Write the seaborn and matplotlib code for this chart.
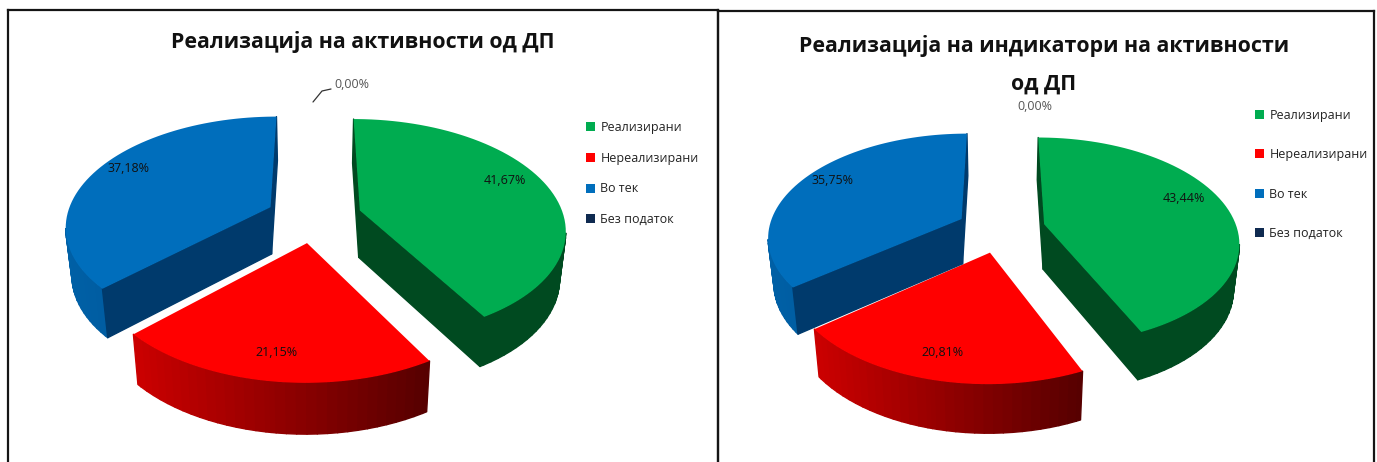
import numpy as np
import matplotlib
matplotlib.use("Agg")
import matplotlib.pyplot as plt
import seaborn as sns
from matplotlib.collections import PolyCollection
from matplotlib.colors import to_rgb
from matplotlib.lines import Line2D
from matplotlib.patches import Patch, Polygon
from matplotlib.transforms import Affine2D

categories = ["Реализирани", "Нереализирани", "Во тек", "Без податок"]
values_left = [41.67, 21.15, 37.18, 0.00]
values_right = [43.44, 20.81, 35.75, 0.00]
title_left = "Реализација на активности од ДП"
title_right = "Реализација на индикатори на активности\nод ДП"
top_colors = ["#00AC50", "#FF0000", "#006EBC", "#0F2A50"]

sns.set_theme(style="white")
plt.rcParams["font.family"] = ["Open Sans", "DejaVu Sans"]
palette = sns.color_palette(top_colors)

W, H = 1377, 462
fig = plt.figure(figsize=(W / 100, H / 100), dpi=100, facecolor="white")


def fx(x):
    return x / W


def fy(y):
    return 1 - y / H


def lerp(a, b, t):
    a, b = np.array(to_rgb(a)), np.array(to_rgb(b))
    return tuple(a + (b - a) * np.clip(t, 0, 1))


def side_color(slice_i, is_arc, t):
    if slice_i == 0:
        return to_rgb("#004A20")
    if slice_i == 2:
        return lerp("#0060A6", "#004F8C", t) if is_arc else to_rgb("#003A6C")
    return lerp("#CC0000", "#560000", t)


def draw_panel(values, rect, geom, title, title_xy, labels_xy, zero_xy, legend_xy, spacing, leader):
    L, T, R, B = rect
    cx, cy, rx, ry, k, depth, expl = geom
    ax = fig.add_axes([fx(L), fy(B), (R - L) / W, (B - T) / H], facecolor="none")
    wedges, _ = ax.pie(values, colors=palette, startangle=90, counterclock=False,
                       explode=[expl] * len(values), radius=1, normalize=True)
    polys = []
    for i, w in enumerate(wedges):
        w.set_visible(False)
        if values[i] <= 0:
            continue
        scaled = w.get_path().transformed(Affine2D().scale(400))
        pts = scaled.to_polygons(closed_only=True)[0] / 400
        x, y = pts[:, 0], pts[:, 1]
        area = np.sum(x[:-1] * y[1:] - x[1:] * y[:-1])
        if area < 0:
            pts = pts[::-1]
        polys.append((i, pts, np.array(w.center)))

    d = depth / ry
    for i, pts, c in polys:
        radial = np.hypot(*(pts - c).T)
        s = 1 / (1 + k * pts[:, 1])
        mp = np.column_stack([pts[:, 0] * s, pts[:, 1] * s])
        low = np.column_stack([mp[:, 0] * 0.975, mp[:, 1] - d * s ** 0.4])
        xmin, xmax = mp[:, 0].min(), mp[:, 0].max()
        quads, cols = [], []
        for a in range(len(mp) - 1):
            p, q = mp[a], mp[a + 1]
            if q[0] - p[0] <= 1e-6:
                continue
            is_arc = radial[a] > 0.98 and radial[a + 1] > 0.98
            quads.append([p, q, low[a + 1], low[a]])
            t = ((p[0] + q[0]) / 2 - xmin) / (xmax - xmin)
            cols.append(side_color(i, is_arc, t))
        ax.add_collection(PolyCollection(quads, facecolors=cols, edgecolors=cols, linewidths=1.0))
        ax.add_patch(Polygon(mp, closed=True, facecolor=palette[i], edgecolor="none"))

    ax.set_aspect("auto")
    ax.set_frame_on(True)
    ax.set_xlim((L - cx) / rx, (R - cx) / rx)
    ax.set_ylim((cy - B) / ry, (cy - T) / ry)
    ax.set_xticks([])
    ax.set_yticks([])
    for name, sp in ax.spines.items():
        sp.set_visible(name != "bottom")
        sp.set_color("#151515")
        sp.set_linewidth(1.6)

    fig.text(fx(title_xy[0]), fy(title_xy[1]), title, ha="center", va="center", fontsize=15.4,
             fontweight="bold", color="#111111", linespacing=2.05)
    for v, xy in zip(values, labels_xy):
        fig.text(fx(xy[0]), fy(xy[1]), f"{v:.2f}".replace(".", ",") + "%", ha="center", va="center",
                 fontsize=9, color="#111111")
    fig.text(fx(zero_xy[0]), fy(zero_xy[1]), f"{values[3]:.2f}".replace(".", ",") + "%",
             ha="center", va="center", fontsize=9, color="#555555")
    if leader:
        fig.add_artist(Line2D([fx(p[0]) for p in leader], [fy(p[1]) for p in leader],
                              color="#333333", lw=0.9))
    handles = [Patch(facecolor=c, edgecolor="none") for c in palette]
    fig.legend(handles, categories, loc="upper left",
               bbox_to_anchor=(fx(legend_xy[0]), fy(legend_xy[1])), frameon=False, fontsize=9,
               handlelength=0.75, handleheight=0.75, handletextpad=0.4, labelspacing=spacing,
               borderpad=0, borderaxespad=0, labelcolor="#222222")


draw_panel(values_left, (8, 10, 718, 470), (314, 217, 204, 108, 0.16, 47, 0.235),
           title_left, (363, 42),
           [(505, 180), (276, 352), (129, 169)], (352, 85), (586, 121), 1.42,
           [(313, 102), (322, 91), (331, 89)])
draw_panel(values_right, (718, 11, 1374, 470), (1001, 229, 193, 102, 0.16, 45, 0.23),
           title_right, (1044, 65),
           [(1184, 199), (942, 352), (833, 181)], (1035, 107), (1255, 109), 2.1,
           None)

fig.savefig("out.png", dpi=100, facecolor="white")
